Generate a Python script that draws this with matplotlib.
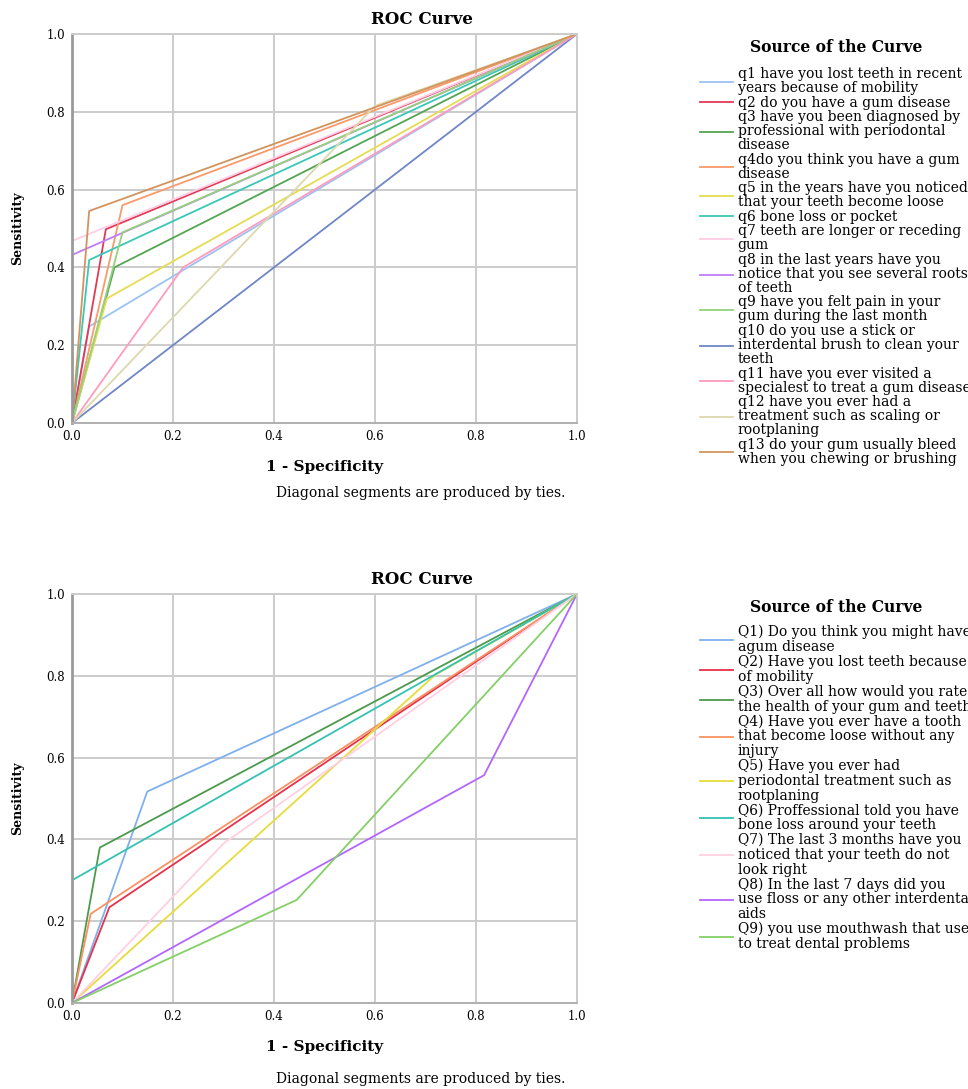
import matplotlib
matplotlib.use("Agg")
import matplotlib.pyplot as plt

plt.rcParams['font.family'] = ['DejaVu Serif']

# top chart: 13 questions
top_labels = [
    "q1 have you lost teeth in recent\nyears because of mobility",
    "q2 do you have a gum disease",
    "q3 have you been diagnosed by\nprofessional with periodontal\ndisease",
    "q4do you think you have a gum\ndisease",
    "q5 in the years have you noticed\nthat your teeth become loose",
    "q6 bone loss or pocket",
    "q7 teeth are longer or receding\ngum",
    "q8 in the last years have you\nnotice that you see several roots\nof teeth",
    "q9 have you felt pain in your\ngum during the last month",
    "q10 do you use a stick or\ninterdental brush to clean your\nteeth",
    "q11 have you ever visited a\nspecialest to treat a gum disease",
    "q12 have you ever had a\ntreatment such as scaling or\nrootplaning",
    "q13 do your gum usually bleed\nwhen you chewing or brushing",
]
top_fpr = [
    [0, 0.034, 1], [0, 0.067, 1], [0, 0.084, 1], [0, 0.10, 1],
    [0, 0.069, 1], [0, 0.034, 1], [0, 0, 1], [0, 0, 1],
    [0, 0.10, 1], [0, 1], [0, 0.22, 1], [0, 0.60, 1], [0, 0.034, 1],
]
top_tpr = [
    [0, 0.248, 1], [0, 0.498, 1], [0, 0.40, 1], [0, 0.56, 1],
    [0, 0.32, 1], [0, 0.419, 1], [0, 0.468, 1], [0, 0.432, 1],
    [0, 0.49, 1], [0, 1], [0, 0.40, 1], [0, 0.815, 1], [0, 0.545, 1],
]
top_colors = ['#9cc2f2', '#e03a55', '#55a455', '#f89a6c', '#e6dc50', '#38c8b8',
              '#ffcde4', '#c27cf8', '#94d27c', '#6f86c8', '#ff9cbc', '#ddd8ae', '#d3935c']

# bottom chart: 9 questions
bot_labels = [
    "Q1) Do you think you might have\nagum disease",
    "Q2) Have you lost teeth because\nof mobility",
    "Q3) Over all how would you rate\nthe health of your gum and teeth",
    "Q4) Have you ever have a tooth\nthat become loose without any\ninjury",
    "Q5) Have you ever had\nperiodontal treatment such as\nrootplaning",
    "Q6) Proffessional told you have\nbone loss around your teeth",
    "Q7) The last 3 months have you\nnoticed that your teeth do not\nlook right",
    "Q8) In the last 7 days did you\nuse floss or any other interdental\naids",
    "Q9) you use mouthwash that used\nto treat dental problems",
]
bot_fpr = [
    [0, 0.149, 1], [0, 0.074, 1], [0, 0.055, 1], [0, 0.037, 1], [0, 0.719, 1],
    [0, 0, 1], [0, 0.30, 1], [0, 0.816, 1], [0, 0.445, 1],
]
bot_tpr = [
    [0, 0.517, 1], [0, 0.234, 1], [0, 0.38, 1], [0, 0.218, 1], [0, 0.802, 1],
    [0, 0.30, 1], [0, 0.39, 1], [0, 0.557, 1], [0, 0.252, 1],
]
bot_colors = ['#7fb0ee', '#e6324c', '#4c9a4c', '#f89262', '#e6dc3c',
              '#34c2b2', '#ffd0e2', '#b366ff', '#84d066']

W, H = 968, 1089
fig = plt.figure(figsize=(W / 100, H / 100), dpi=100)


def draw_panel(top_px, bot_px, fprs, tprs, colors, labels, title_y, leg_title_y,
               leg_y, note_y, line_sp):
    ax = fig.add_axes([72 / W, 1 - bot_px / H, 505 / W, (bot_px - top_px) / H])
    for f, t, c, lab in zip(fprs, tprs, colors, labels):
        ax.plot(f, t, color=c, lw=1.3, label=lab)
    ax.set_xlim(0, 1)
    ax.set_ylim(0, 1)
    ax.set_xticks([0, 0.2, 0.4, 0.6, 0.8, 1.0])
    ax.set_yticks([0, 0.2, 0.4, 0.6, 0.8, 1.0])
    ax.grid(True, color='#cccccc', lw=1.4)
    ax.set_axisbelow(True)
    ax.tick_params(length=0, pad=5, labelsize=8.5)
    for s in ['top', 'right']:
        ax.spines[s].set_color('#cccccc')
        ax.spines[s].set_linewidth(1.4)
    ax.spines['left'].set_color('#9a9a9a')
    ax.spines['left'].set_linewidth(2)
    ax.spines['bottom'].set_color('#b0b0b0')
    ax.spines['bottom'].set_linewidth(1.4)
    ax.set_xlabel('1 - Specificity', fontsize=11, fontweight='bold', labelpad=12)
    ax.set_ylabel('Sensitivity', fontsize=9, fontweight='bold', labelpad=16)
    fig.text(422 / W, 1 - title_y / H, 'ROC Curve', ha='center', va='center',
             fontsize=12, fontweight='bold')
    fig.text(421 / W, 1 - note_y / H, 'Diagonal segments are produced by ties.',
             ha='center', va='center', fontsize=10)
    fig.text(836 / W, 1 - leg_title_y / H, 'Source of the Curve', ha='center',
             va='center', fontsize=11.2, fontweight='bold')
    leg = ax.legend(loc='upper left', bbox_to_anchor=(700 / W, 1 - leg_y / H),
                    bbox_transform=fig.transFigure, frameon=False, fontsize=10,
                    handlelength=2.4, handletextpad=0.3, labelspacing=0.04,
                    borderpad=0, borderaxespad=0)
    for t in leg.get_texts():
        t.set_linespacing(line_sp)
    return ax


draw_panel(34, 423, top_fpr, top_tpr, top_colors, top_labels, 20, 48, 67, 493, 1.0)
draw_panel(594, 1003, bot_fpr, bot_tpr, bot_colors, bot_labels, 579, 608, 625, 1079, 1.07)

plt.savefig('out.png', dpi=100)
